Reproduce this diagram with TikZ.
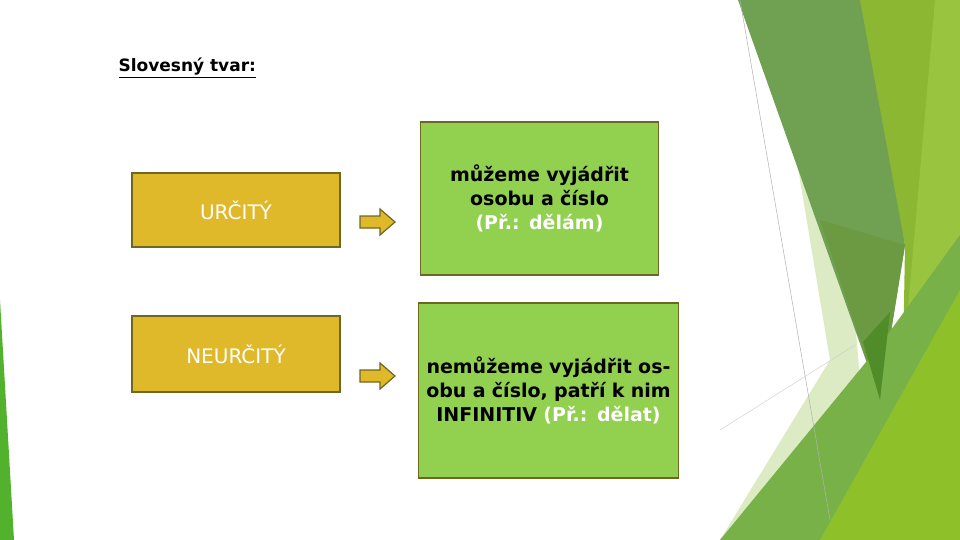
\documentclass[tikz,border=0pt]{standalone}
\usepackage{fontspec}
\setmainfont{DejaVu Sans}
\begin{document}
\begin{tikzpicture}[x=1pt,y=-1pt,
  ybox/.style={draw=olive!70!black,line width=1.5pt,fill=ybg,minimum width=208pt,minimum height=74pt,text=white,font=\fontsize{20}{24}\selectfont},
  gbox/.style={draw=olive!70!black,line width=1.5pt,fill=gbg,text width=230pt,align=center,font=\bfseries\fontsize{19}{24}\selectfont,inner sep=4pt},
  arr/.style={draw=olive!70!black,line width=1.2pt,fill=ybg}]
\definecolor{ybg}{HTML}{E0B92A}
\definecolor{gbg}{HTML}{92D050}
\useasboundingbox (0,0) rectangle (960,540);
\fill[white] (0,0) rectangle (960,540);
% background decoration
\fill[gbg!70!green!80!black] (0,300) -- (14,540) -- (0,540) -- cycle;
\fill[color={rgb,255:red,220;green,235;blue,195}] (790,120) -- (850,260) -- (860,380) -- (745,540) -- (720,540) -- (830,360) -- cycle;
\fill[color={rgb,255:red,112;green,160;blue,82}] (738,0) -- (870,0) -- (905,245) -- (880,400) -- cycle;
\fill[color={rgb,255:red,107;green,154;blue,66}] (820,220) -- (905,245) -- (880,400) -- cycle;
\fill[color={rgb,255:red,139;green,183;blue,50}] (860,0) -- (960,0) -- (960,540) -- (900,540) -- (905,245) -- cycle;
\fill[color={rgb,255:red,152;green,196;blue,64}] (935,0) -- (960,0) -- (960,540) -- (900,400) -- cycle;
\fill[color={rgb,255:red,120;green,177;blue,72}] (720,540) -- (880,345) -- (960,235) -- (960,540) -- cycle;
\fill[color={rgb,255:red,142;green,192;blue,42}] (820,540) -- (960,290) -- (960,540) -- cycle;
\fill[color={rgb,255:red,80;green,140;blue,40}] (863,342) -- (890,312) -- (880,400) -- cycle;
\draw[gray!60,line width=0.5pt] (740,0) -- (830,520);
\draw[gray!40,line width=0.4pt] (720,430) -- (855,345);
% title
\node[anchor=west,font=\bfseries\fontsize{17}{20}\selectfont] (t) at (115,68) {\underline{Slovesný tvar:}};
% boxes
\node[ybox] (u) at (236,210) {URČITÝ};
\node[ybox,minimum height=76pt] (n) at (236,354) {NEURČITÝ};
\node[gbox,minimum height=153pt] (g1) at (539.5,198.5) {můžeme vyjádřit osobu a číslo \textcolor{white}{(Př.: dělám)}};
\node[gbox,text width=252pt,minimum height=175pt] (g2) at (548.5,390.5) {nemůžeme vyjádřit osobu a číslo, patří k nim INFINITIV \textcolor{white}{(Př.: dělat)}};
% arrows
\coordinate (a1) at (360,222);
\draw[arr] (a1) ++(0,-6) -- ++(20,0) -- ++(0,-7) -- ++(15,13) -- ++(-15,13) -- ++(0,-7) -- ++(-20,0) -- cycle;
\coordinate (a2) at (360,376);
\draw[arr] (a2) ++(0,-6) -- ++(20,0) -- ++(0,-7) -- ++(15,13) -- ++(-15,13) -- ++(0,-7) -- ++(-20,0) -- cycle;
\end{tikzpicture}
\end{document}
